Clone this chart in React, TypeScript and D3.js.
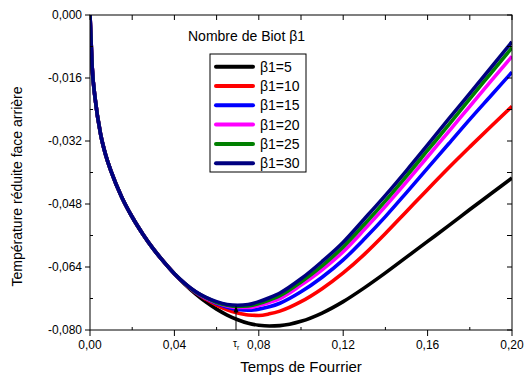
import * as d3 from "d3";

const W = 525;
const H = 378;
const margin = { top: 15, right: 13, bottom: 48, left: 90 };

const times = [
  0, 0.001, 0.0025, 0.005, 0.0075, 0.01, 0.015, 0.02, 0.025, 0.03, 0.035, 0.04, 0.045,
  0.05, 0.055, 0.06, 0.065, 0.07, 0.075, 0.08, 0.085, 0.09, 0.1, 0.11, 0.12, 0.13, 0.14,
  0.15, 0.16, 0.17, 0.18, 0.19, 0.2,
];

// common early descent (all Biot numbers coincide here)
const early = [0, -0.013, -0.0215, -0.0302, -0.0357, -0.0397, -0.0462, -0.0513, -0.0556, -0.0594, -0.0627, -0.0657];

const beta5 = [...early, -0.0684,
  -0.0708, -0.0729, -0.0747, -0.0762, -0.0774, -0.0783, -0.0788, -0.079, -0.0789, -0.0778, -0.0757, -0.0728,
  -0.0693, -0.0655, -0.0615, -0.0575, -0.0535, -0.0494, -0.0454, -0.0414];
const beta10 = [...early, -0.0683,
  -0.0705, -0.0722, -0.0737, -0.0749, -0.0757, -0.0762, -0.0763, -0.0759, -0.0752, -0.0728, -0.0695, -0.0655,
  -0.0608, -0.0555, -0.0499, -0.0443, -0.0388, -0.0335, -0.0283, -0.0232];
const beta15 = [...early, -0.0682,
  -0.0704, -0.072, -0.0733, -0.0742, -0.0748, -0.075, -0.0747, -0.0741, -0.0732, -0.0703, -0.0666, -0.0622,
  -0.0569, -0.0512, -0.0451, -0.0389, -0.0327, -0.0265, -0.0205, -0.0145];
const beta20 = [...early, -0.0682,
  -0.0703, -0.0719, -0.0731, -0.0739, -0.0743, -0.0743, -0.0738, -0.073, -0.072, -0.0686, -0.0647, -0.0601,
  -0.0545, -0.0486, -0.0424, -0.036, -0.0296, -0.0232, -0.0168, -0.0105];
const beta25 = [...early, -0.0682,
  -0.0703, -0.0718, -0.073, -0.0737, -0.074, -0.0739, -0.0733, -0.0724, -0.0713, -0.0678, -0.0637, -0.0589,
  -0.0532, -0.0472, -0.0409, -0.0344, -0.0279, -0.0213, -0.0148, -0.0083];
const beta30 = [...early, -0.0682,
  -0.0702, -0.0717, -0.0728, -0.0735, -0.0737, -0.0735, -0.0728, -0.0718, -0.0706, -0.067, -0.0626, -0.0577,
  -0.0518, -0.0458, -0.0395, -0.033, -0.0264, -0.0199, -0.0134, -0.0068];

const seriesNames = ["β1=5", "β1=10", "β1=15", "β1=20", "β1=25", "β1=30"];
const seriesValues = [beta5, beta10, beta15, beta20, beta25, beta30];
const seriesColors = ["#000000", "#ff0000", "#0000ff", "#ff00ff", "#008000", "#000080"];

const xTicks = [0, 0.04, 0.08, 0.12, 0.16, 0.2];
const xMinor = [0.02, 0.06, 0.1, 0.14, 0.18];
const yTicks = [0, -0.016, -0.032, -0.048, -0.064, -0.08];
const yMinor = [-0.008, -0.024, -0.04, -0.056, -0.072];
const tauR = 0.0692;

const fmtX = (v: number) => v.toFixed(2).replace(".", ",");
const fmtY = (v: number) => (v === 0 ? "0,000" : v.toFixed(3).replace(".", ","));

export default function App() {
  const iw = W - margin.left - margin.right;
  const ih = H - margin.top - margin.bottom;
  const x = d3.scaleLinear().domain([0, 0.2]).range([margin.left, margin.left + iw]);
  const y = d3.scaleLinear().domain([0, -0.08]).range([margin.top, margin.top + ih]);
  const x0 = x(0), x1 = x(0.2), y0 = y(0), y1 = y(-0.08);

  const line = d3
    .line<number>()
    .x((_, i) => x(times[i]))
    .y((d) => y(d))
    .curve(d3.curveMonotoneX);

  const font = "Liberation Sans, Arial, sans-serif";
  const legX = 210, legY = 54, legRow = 19.3;
  const tipY = y(-0.0738);

  return (
    <svg width={W} height={H} style={{ position: "absolute", left: 0, top: 0 }} fontFamily={font}>
      <rect width={W} height={H} fill="#fff" />
      <defs>
        <clipPath id="plot">
          <rect x={x0} y={y0} width={iw} height={ih} />
        </clipPath>
      </defs>

      <g clipPath="url(#plot)">
        {seriesValues.map((vals, i) => (
          <path key={i} d={line(vals) ?? ""} fill="none" stroke={seriesColors[i]} strokeWidth={3.6} strokeLinejoin="round" />
        ))}
      </g>

      {/* frame */}
      <rect x={x0} y={y0} width={iw} height={ih} fill="none" stroke="#000" strokeWidth={1} />

      {/* bottom + top ticks */}
      {xTicks.map((t) => (
        <g key={"xb" + t}>
          <line x1={x(t)} x2={x(t)} y1={y1} y2={y1 + 6} stroke="#000" />
          <line x1={x(t)} x2={x(t)} y1={y0} y2={y0 + 5} stroke="#000" />
          <text x={x(t)} y={y1 + 19} fontSize={12} textAnchor="middle">{fmtX(t)}</text>
        </g>
      ))}
      {xMinor.map((t) => (
        <g key={"xm" + t}>
          <line x1={x(t)} x2={x(t)} y1={y1} y2={y1 - 3} stroke="#000" />
          <line x1={x(t)} x2={x(t)} y1={y0} y2={y0 + 5} stroke="#000" />
        </g>
      ))}

      {/* left + right ticks */}
      {yTicks.map((t) => (
        <g key={"yl" + t}>
          <line x1={x0 - 5} x2={x0} y1={y(t)} y2={y(t)} stroke="#000" />
          <line x1={x1 - 5} x2={x1} y1={y(t)} y2={y(t)} stroke="#000" />
          <text x={x0 - 8} y={y(t) + 4} fontSize={12} textAnchor="end">{fmtY(t)}</text>
        </g>
      ))}
      {yMinor.map((t) => (
        <g key={"ym" + t}>
          <line x1={x0} x2={x0 + 3} y1={y(t)} y2={y(t)} stroke="#000" />
          <line x1={x1 - 5} x2={x1} y1={y(t)} y2={y(t)} stroke="#000" />
        </g>
      ))}

      {/* tau_r marker */}
      <line x1={x(tauR)} x2={x(tauR)} y1={y1} y2={tipY + 6} stroke="#000" strokeWidth={1} />
      <path d={`M${x(tauR) - 2.5},${tipY + 7} L${x(tauR)},${tipY} L${x(tauR) + 2.5},${tipY + 7} Z`} fill="#000" />
      <text x={x(tauR) - 3} y={y1 + 17} fontSize={10}>
        τ<tspan fontSize={7} dy={3}>r</tspan>
      </text>

      {/* axis titles */}
      <text x={(x0 + x1) / 2} y={H - 6} fontSize={15} textAnchor="middle">Temps de Fourrier</text>
      <text transform={`translate(22,${(y0 + y1) / 2 + 14}) rotate(-90)`} fontSize={14} textAnchor="middle">
        Température réduite face arrière
      </text>

      {/* legend */}
      <text x={188} y={41} fontSize={14}>Nombre de Biot β1</text>
      <rect x={legX} y={legY} width={96} height={118} fill="#fff" stroke="#000" strokeWidth={1} />
      {seriesNames.map((n, i) => (
        <g key={n}>
          <line x1={216} x2={253} y1={legY + 12.7 + i * legRow} y2={legY + 12.7 + i * legRow} stroke={seriesColors[i]} strokeWidth={4} strokeLinecap="round" />
          <text x={260} y={legY + 12.7 + i * legRow + 5} fontSize={14}>{n}</text>
        </g>
      ))}
    </svg>
  );
}
